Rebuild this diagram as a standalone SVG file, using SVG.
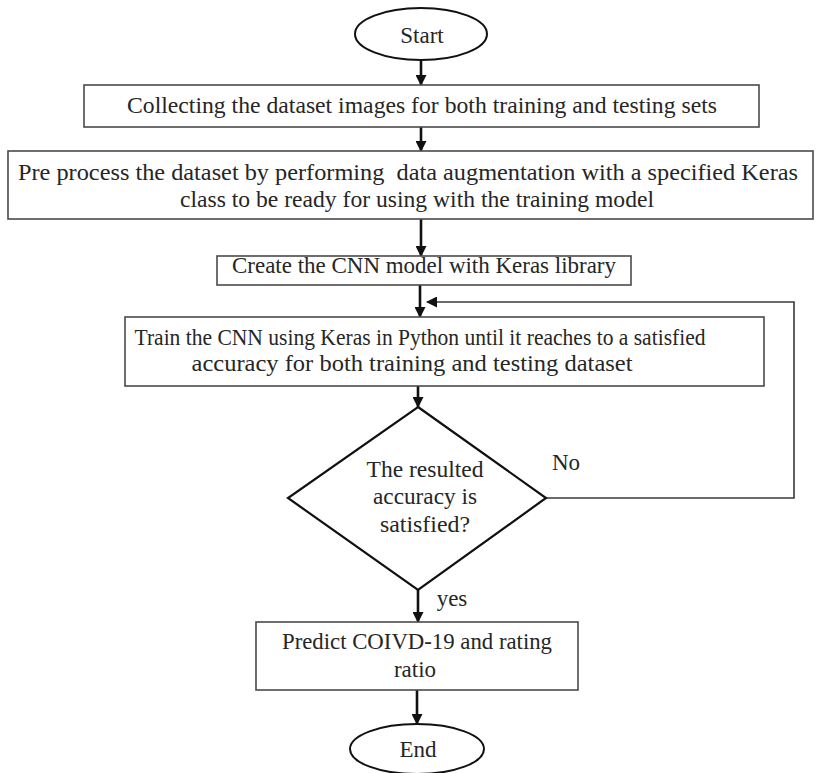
<svg xmlns="http://www.w3.org/2000/svg" width="817" height="773" viewBox="0 0 817 773">
<style>
  .t { font-family: "Liberation Serif", "Times New Roman", serif; font-size: 23px; fill: #262626; text-anchor: middle; }
  .box { fill: #ffffff; stroke: #4a4a4a; stroke-width: 1.6; }
  .term { fill: #ffffff; stroke: #111111; stroke-width: 2; }
  .dec { fill: #ffffff; stroke: #111111; stroke-width: 2.2; }
  .arrow { fill: none; stroke: #111111; stroke-width: 2.6; marker-end: url(#ah); }
  .loop { fill: none; stroke: #3a3a3a; stroke-width: 1.6; marker-end: url(#ah2); }
</style>
<defs>
  <marker id="ah" markerUnits="userSpaceOnUse" markerWidth="11" markerHeight="11" refX="10" refY="5.5" orient="auto">
    <path d="M0,0 L11,5.5 L0,11 z" fill="#111111"/>
  </marker>
  <marker id="ah2" markerUnits="userSpaceOnUse" markerWidth="11" markerHeight="11" refX="10" refY="5.5" orient="auto">
    <path d="M0,0 L11,5.5 L0,11 z" fill="#111111"/>
  </marker>
</defs>
<rect width="817" height="773" fill="#ffffff"/>

<g id="connectors">
  <line class="arrow" x1="421" y1="60" x2="421" y2="85"/>
  <line class="arrow" x1="421" y1="127" x2="421" y2="151"/>
  <line class="arrow" x1="421" y1="219" x2="421" y2="256"/>
  <line class="arrow" x1="420" y1="285" x2="420" y2="317"/>
  <line class="arrow" x1="418" y1="386" x2="418" y2="407"/>
  <line class="arrow" x1="418" y1="590" x2="418" y2="622"/>
  <line class="arrow" x1="417" y1="690" x2="417" y2="724"/>
  <polyline class="loop" points="546,498 794,498 794,302 427,302"/>
  <text class="t" x="566" y="470">No</text>
  <text class="t" x="452" y="606">yes</text>
</g>

<g id="start">
  <ellipse class="term" cx="421" cy="34" rx="66" ry="26"/>
  <text class="t" x="422" y="43">Start</text>
</g>

<g id="collect">
  <rect class="box" x="84" y="85" width="675" height="42"/>
  <text class="t" x="422" y="113" textLength="590" lengthAdjust="spacingAndGlyphs">Collecting the dataset images for both training and testing sets</text>
</g>

<g id="preprocess">
  <rect class="box" x="8" y="151" width="805" height="68"/>
  <text class="t" x="408" y="180" textLength="780" lengthAdjust="spacingAndGlyphs" style="white-space:pre">Pre process the dataset by performing  data augmentation with a specified Keras</text>
  <text class="t" x="417" y="207" textLength="474" lengthAdjust="spacingAndGlyphs">class to be ready for using with the training model</text>
</g>

<g id="create">
  <rect class="box" x="217" y="256" width="414" height="29"/>
  <text class="t" x="424" y="273" textLength="384" lengthAdjust="spacingAndGlyphs">Create the CNN model with Keras library</text>
</g>

<g id="train">
  <rect class="box" x="125" y="317" width="639" height="69"/>
  <text class="t" x="420" y="345" textLength="571" lengthAdjust="spacingAndGlyphs">Train the CNN using Keras in Python until it reaches to a satisfied</text>
  <text class="t" x="412" y="371" textLength="441" lengthAdjust="spacingAndGlyphs">accuracy for both training and testing dataset</text>
</g>

<g id="decision">
  <polygon class="dec" points="418,407 546,498 418,590 288,498"/>
  <text class="t" x="425" y="477" textLength="117" lengthAdjust="spacingAndGlyphs">The resulted</text>
  <text class="t" x="425" y="504" textLength="104" lengthAdjust="spacingAndGlyphs">accuracy is</text>
  <text class="t" x="425" y="532" textLength="90" lengthAdjust="spacingAndGlyphs">satisfied?</text>
</g>

<g id="predict">
  <rect class="box" x="256" y="622" width="322" height="68"/>
  <text class="t" x="417" y="649" textLength="270" lengthAdjust="spacingAndGlyphs">Predict COIVD-19 and rating</text>
  <text class="t" x="415" y="677">ratio</text>
</g>

<g id="end">
  <ellipse class="term" cx="417" cy="749" rx="67" ry="25"/>
  <text class="t" x="418" y="757">End</text>
</g>
</svg>
